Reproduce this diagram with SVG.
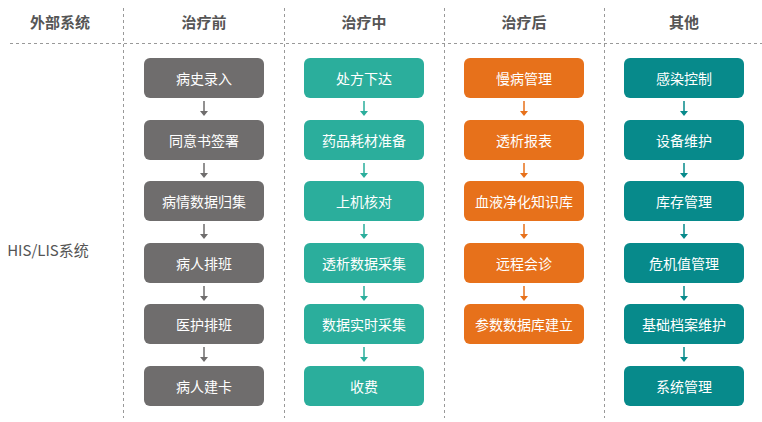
<svg xmlns="http://www.w3.org/2000/svg" width="762" height="422" viewBox="0 0 762 422">
<style>
text{font-family:"Noto Sans CJK SC","Noto Sans",sans-serif;text-anchor:middle;dominant-baseline:central}
.h{font-size:15px;font-weight:bold;fill:#555}
.t{font-size:14px;fill:#fff}
.g{fill:#6f6d6d}.c{fill:#2bae9c}.o{fill:#e7711b}.d{fill:#078a8b}
.sep{stroke:#999;stroke-width:1;stroke-dasharray:3 3;fill:none}
.ag{stroke:#6f6d6d}.ac{stroke:#2bae9c}.ao{stroke:#e7711b}.ad{stroke:#078a8b}
</style>
<defs>
<marker id="mg" markerWidth="8" markerHeight="6" refX="4" refY="5" orient="auto-start-reverse" markerUnits="userSpaceOnUse" viewBox="0 0 8 6"><path d="M0,0L8,0L4,6z" fill="#6f6d6d" transform="rotate(0)"/></marker>
</defs>
<rect width="762" height="422" fill="#fff"/>
<g id="grid">
<path class="sep" d="M10,43.5H762M123.5,8V418M284.5,8V418M444.5,8V418M604.5,8V418"/>
</g>
<g id="headers">
<text class="h" x="60" y="21">外部系统</text>
<text class="h" x="204" y="21">治疗前</text>
<text class="h" x="364" y="21">治疗中</text>
<text class="h" x="524" y="21">治疗后</text>
<text class="h" x="684" y="21">其他</text>
<text class="h" x="48" y="249" style="font-weight:normal;fill:#555;font-size:15px">HIS/LIS系统</text>
</g>
<g id="connectors" stroke-width="1.5">
<g class="ag" fill="none"><path d="M204,101V113M204,163V175M204,224V236M204,286V298M204,347V359"/></g>
<g fill="#6f6d6d"><path d="M200,111h8l-4,5zM200,173h8l-4,5zM200,234h8l-4,5zM200,296h8l-4,5zM200,357h8l-4,5z"/></g>
<g class="ac" fill="none"><path d="M364,101V113M364,163V175M364,224V236M364,286V298M364,347V359"/></g>
<g fill="#2bae9c"><path d="M360,111h8l-4,5zM360,173h8l-4,5zM360,234h8l-4,5zM360,296h8l-4,5zM360,357h8l-4,5z"/></g>
<g class="ao" fill="none"><path d="M524,101V113M524,163V175M524,224V236M524,286V298"/></g>
<g fill="#e7711b"><path d="M520,111h8l-4,5zM520,173h8l-4,5zM520,234h8l-4,5zM520,296h8l-4,5z"/></g>
<g class="ad" fill="none"><path d="M684,101V113M684,163V175M684,224V236M684,286V298M684,347V359"/></g>
<g fill="#078a8b"><path d="M680,111h8l-4,5zM680,173h8l-4,5zM680,234h8l-4,5zM680,296h8l-4,5zM680,357h8l-4,5z"/></g>
</g>
<g id="n1"><rect class="g" x="144" y="58" width="120" height="40" rx="6"/><text class="t" x="204" y="78">病史录入</text></g>
<g id="n2"><rect class="g" x="144" y="120" width="120" height="40" rx="6"/><text class="t" x="204" y="140">同意书签署</text></g>
<g id="n3"><rect class="g" x="144" y="181" width="120" height="40" rx="6"/><text class="t" x="204" y="201">病情数据归集</text></g>
<g id="n4"><rect class="g" x="144" y="243" width="120" height="40" rx="6"/><text class="t" x="204" y="263">病人排班</text></g>
<g id="n5"><rect class="g" x="144" y="304" width="120" height="40" rx="6"/><text class="t" x="204" y="324">医护排班</text></g>
<g id="n6"><rect class="g" x="144" y="366" width="120" height="40" rx="6"/><text class="t" x="204" y="386">病人建卡</text></g>
<g id="m1"><rect class="c" x="304" y="58" width="120" height="40" rx="6"/><text class="t" x="364" y="78">处方下达</text></g>
<g id="m2"><rect class="c" x="304" y="120" width="120" height="40" rx="6"/><text class="t" x="364" y="140">药品耗材准备</text></g>
<g id="m3"><rect class="c" x="304" y="181" width="120" height="40" rx="6"/><text class="t" x="364" y="201">上机核对</text></g>
<g id="m4"><rect class="c" x="304" y="243" width="120" height="40" rx="6"/><text class="t" x="364" y="263">透析数据采集</text></g>
<g id="m5"><rect class="c" x="304" y="304" width="120" height="40" rx="6"/><text class="t" x="364" y="324">数据实时采集</text></g>
<g id="m6"><rect class="c" x="304" y="366" width="120" height="40" rx="6"/><text class="t" x="364" y="386">收费</text></g>
<g id="p1"><rect class="o" x="464" y="58" width="120" height="40" rx="6"/><text class="t" x="524" y="78">慢病管理</text></g>
<g id="p2"><rect class="o" x="464" y="120" width="120" height="40" rx="6"/><text class="t" x="524" y="140">透析报表</text></g>
<g id="p3"><rect class="o" x="464" y="181" width="120" height="40" rx="6"/><text class="t" x="524" y="201">血液净化知识库</text></g>
<g id="p4"><rect class="o" x="464" y="243" width="120" height="40" rx="6"/><text class="t" x="524" y="263">远程会诊</text></g>
<g id="p5"><rect class="o" x="464" y="304" width="120" height="40" rx="6"/><text class="t" x="524" y="324">参数数据库建立</text></g>
<g id="q1"><rect class="d" x="624" y="58" width="120" height="40" rx="6"/><text class="t" x="684" y="78">感染控制</text></g>
<g id="q2"><rect class="d" x="624" y="120" width="120" height="40" rx="6"/><text class="t" x="684" y="140">设备维护</text></g>
<g id="q3"><rect class="d" x="624" y="181" width="120" height="40" rx="6"/><text class="t" x="684" y="201">库存管理</text></g>
<g id="q4"><rect class="d" x="624" y="243" width="120" height="40" rx="6"/><text class="t" x="684" y="263">危机值管理</text></g>
<g id="q5"><rect class="d" x="624" y="304" width="120" height="40" rx="6"/><text class="t" x="684" y="324">基础档案维护</text></g>
<g id="q6"><rect class="d" x="624" y="366" width="120" height="40" rx="6"/><text class="t" x="684" y="386">系统管理</text></g>
</svg>
